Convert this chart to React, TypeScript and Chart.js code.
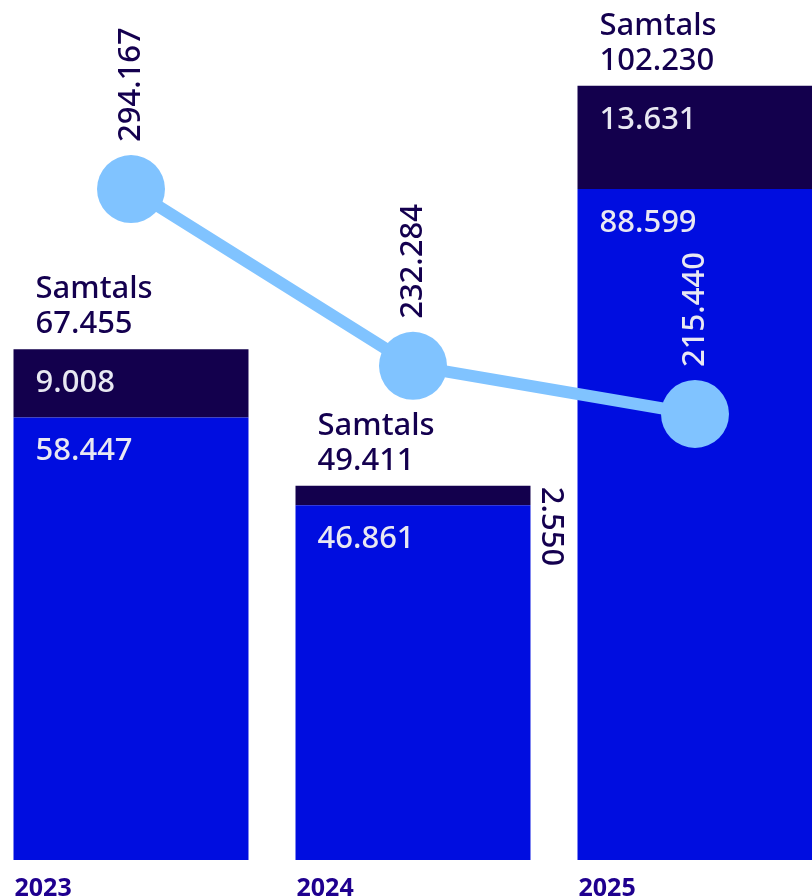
import React, { useEffect, useRef } from 'react';
import { Chart, registerables } from 'chart.js';
Chart.register(...registerables);

const years = ['2023', '2024', '2025'];
const baseValues = [58.447, 46.861, 88.599];
const topValues = [9.008, 2.55, 13.631];
const totalValues = [67.455, 49.411, 102.23];
const lineValues = [294.167, 232.284, 215.44];
const totalLabel = 'Samtals';

const BLUE = '#000de0';
const NAVY = '#13004d';
const LINE = '#80c3ff';
const DARK = '#14004f';
const WHITE = '#e8e8f2';
const YEAR = '#1f008f';
const FONT = '"Noto Sans", "Open Sans", sans-serif';

const fmt = (v: number) => v.toFixed(3);

const labelPlugin = {
  id: 'customLabels',
  afterDatasetsDraw(chart: any) {
    const ctx = chart.ctx as CanvasRenderingContext2D;
    const m0 = chart.getDatasetMeta(0);
    const m1 = chart.getDatasetMeta(1);
    const m2 = chart.getDatasetMeta(2);
    ctx.save();
    years.forEach((yr, i) => {
      const b0 = m0.data[i];
      const b1 = m1.data[i];
      const left = b0.x - b0.width / 2;
      const right = b0.x + b0.width / 2;
      ctx.font = `500 31px ${FONT}`;
      ctx.textAlign = 'left';
      ctx.textBaseline = 'alphabetic';
      // base segment label
      ctx.fillStyle = WHITE;
      ctx.fillText(fmt(baseValues[i]), left + 22, b0.y + 43);
      // top segment label
      const h = b1.base - b1.y;
      if (h > 50) {
        ctx.fillText(fmt(topValues[i]), left + 22, b1.y + 43);
      } else {
        ctx.save();
        ctx.fillStyle = DARK;
        ctx.translate(right + 20, b1.y + 1);
        ctx.rotate(Math.PI / 2);
        ctx.textBaseline = 'middle';
        ctx.fillText(fmt(topValues[i]), 0, 0);
        ctx.restore();
      }
      // totals
      ctx.fillStyle = DARK;
      ctx.fillText(totalLabel, left + 22, b1.y - 51);
      ctx.fillText(fmt(totalValues[i]), left + 22, b1.y - 16);
      // year labels
      ctx.font = `bold 25px ${FONT}`;
      ctx.fillStyle = YEAR;
      ctx.fillText(yr, left + 1, 896);
      // line labels
      const p = m2.data[i];
      ctx.font = `500 31px ${FONT}`;
      const txt = fmt(lineValues[i]);
      const w = ctx.measureText(txt).width;
      const start = p.y - 47;
      const top = start - w;
      const inside = top > b1.y && p.x > left && p.x < right;
      ctx.save();
      ctx.fillStyle = inside ? WHITE : DARK;
      ctx.translate(p.x, start);
      ctx.rotate(-Math.PI / 2);
      ctx.textBaseline = 'middle';
      ctx.fillText(txt, 0, 0);
      ctx.restore();
    });
    ctx.restore();
  },
};

export default function App() {
  const ref = useRef<HTMLCanvasElement>(null);
  useEffect(() => {
    if (!ref.current) return;
    const chart = new Chart(ref.current, {
      type: 'bar',
      data: {
        labels: years,
        datasets: [
          {
            type: 'bar',
            data: baseValues,
            backgroundColor: BLUE,
            categoryPercentage: 1,
            barPercentage: 0.8333,
            order: 2,
            yAxisID: 'y',
          },
          {
            type: 'bar',
            data: topValues,
            backgroundColor: NAVY,
            categoryPercentage: 1,
            barPercentage: 0.8333,
            order: 2,
            yAxisID: 'y',
          },
          {
            type: 'line',
            data: lineValues,
            borderColor: LINE,
            backgroundColor: LINE,
            borderWidth: 12,
            pointRadius: 34,
            pointBorderWidth: 0,
            pointBackgroundColor: LINE,
            order: 0,
            yAxisID: 'y1',
          } as any,
        ],
      },
      options: {
        responsive: false,
        animation: false,
        events: [],
        layout: { autoPadding: false, padding: { top: 27, bottom: 36, left: 0, right: 0 } },
        plugins: { legend: { display: false }, tooltip: { enabled: false } },
        scales: {
          x: { display: false, stacked: true, offset: true },
          y: { display: false, stacked: true, min: 0, max: 110 },
          y1: { display: false, min: 59.3, max: 350.9, position: 'right' },
        },
      },
      plugins: [labelPlugin],
    });
    return () => chart.destroy();
  }, []);
  return (
    <div style={{ position: 'fixed', left: 0, top: 0, width: 812, height: 896, overflow: 'hidden', background: '#fff' }}>
      <div style={{ position: 'absolute', left: -10.5, top: 0, width: 846, height: 896 }}>
        <canvas ref={ref} width={846} height={896} style={{ display: 'block' }} />
      </div>
    </div>
  );
}
